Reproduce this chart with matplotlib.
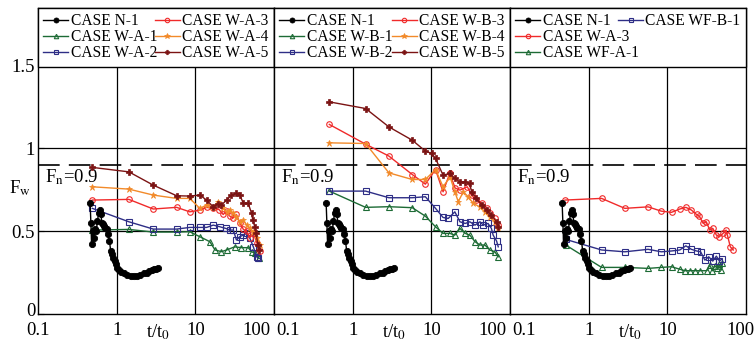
import matplotlib
matplotlib.use('Agg')
import matplotlib.pyplot as plt
from matplotlib.ticker import FixedLocator, FixedFormatter
from matplotlib.transforms import ScaledTranslation

plt.rcParams['font.family'] = ['Liberation Serif', 'DejaVu Serif']
plt.rcParams['mathtext.fontset'] = 'stix'

# ---- data ----
n1_x = [0.46, 0.47, 0.48, 0.50, 0.51, 0.53, 0.55, 0.57, 0.59, 0.61, 0.63, 0.65, 0.67, 0.70,
        0.72, 0.75, 0.78, 0.81, 0.84, 0.87, 0.90, 0.94, 0.98, 1.02, 1.08, 1.15, 1.25, 1.35,
        1.5, 1.65, 1.8, 2.0, 2.2, 2.4, 2.6, 2.8, 3.0, 3.2, 3.4]
n1_y = [0.67, 0.55, 0.42, 0.50, 0.46, 0.51, 0.50, 0.56, 0.61, 0.63, 0.60, 0.55, 0.54, 0.53,
        0.52, 0.51, 0.48, 0.44, 0.38, 0.36, 0.34, 0.32, 0.30, 0.28, 0.265, 0.255, 0.245, 0.235,
        0.232, 0.23, 0.23, 0.235, 0.245, 0.25, 0.26, 0.265, 0.27, 0.27, 0.275]

# panel 1: W-A cases
wa1_x = [0.49, 1.43, 2.92, 5.78, 8.5, 11.4, 15.3, 17.8, 21.5, 25, 31.6, 38.5, 47, 51.9, 57, 65]
wa1_y = [0.506, 0.510, 0.494, 0.494, 0.496, 0.466, 0.436, 0.386, 0.376, 0.386, 0.405, 0.40,
         0.40, 0.376, 0.366, 0.335]
wa2_x = [0.49, 1.43, 2.92, 5.78, 8.5, 11.4, 13.9, 16.9, 20.5, 24.4, 27.4, 30.4, 33.3, 36.7,
         40.8, 44.8, 49.4, 54.6, 60.3, 62.7]
wa2_y = [0.637, 0.556, 0.512, 0.512, 0.522, 0.522, 0.522, 0.536, 0.526, 0.516, 0.506, 0.506,
         0.446, 0.466, 0.476, 0.486, 0.456, 0.405, 0.345, 0.335]
wa3_x = [0.49, 1.43, 2.92, 5.78, 8.5, 11.4, 13.9, 16.9, 20, 22.6, 25, 27.4, 30.4, 33.3, 36.7,
         40.8, 44.8, 49.4, 54.6, 60.3, 66.4]
wa3_y = [0.687, 0.691, 0.633, 0.643, 0.616, 0.626, 0.643, 0.637, 0.63, 0.60, 0.62, 0.59, 0.58,
         0.60, 0.55, 0.51, 0.50, 0.46, 0.49, 0.43, 0.38]
wa4_x = [0.49, 1.43, 2.92, 5.78, 8.5, 11.4, 13.9, 16.9, 19.6, 22.6, 25, 27.4, 30.4, 33.3, 36.7,
         40.8, 44.8, 49.4, 54.6, 60.3, 66.4]
wa4_y = [0.767, 0.753, 0.717, 0.697, 0.697, 0.637, 0.657, 0.646, 0.677, 0.637, 0.616, 0.626,
         0.607, 0.586, 0.556, 0.566, 0.536, 0.516, 0.496, 0.456, 0.416]
wa5_x = [0.49, 1.43, 2.92, 5.78, 8.5, 11.4, 13.9, 16.9, 19.6, 21.5, 25, 28.8, 33.3, 36.8, 40.8,
         47, 51.9, 53.8, 57, 59, 62.7, 65]
wa5_y = [0.884, 0.857, 0.777, 0.713, 0.711, 0.717, 0.687, 0.646, 0.665, 0.657, 0.687, 0.717,
         0.727, 0.717, 0.667, 0.667, 0.607, 0.566, 0.526, 0.486, 0.416, 0.386]

# panel 2: W-B cases
wb1_x = [0.505, 1.46, 2.89, 5.72, 8.4, 11.3, 14.1, 17.2, 19.9, 23.1, 27, 30.8, 35.9, 41.5, 48,
         55.3, 64, 70.9]
wb1_y = [0.741, 0.643, 0.647, 0.641, 0.59, 0.526, 0.486, 0.486, 0.476, 0.516, 0.486, 0.476,
         0.436, 0.416, 0.416, 0.386, 0.376, 0.345]
wb2_x = [0.505, 1.46, 2.89, 5.72, 8.4, 11.3, 14.1, 16.4, 19.9, 23.1, 27, 30.8, 35.9, 41.5, 45.7,
         52.6, 58, 61, 67.5, 70.9]
wb2_y = [0.741, 0.741, 0.701, 0.701, 0.707, 0.637, 0.582, 0.576, 0.616, 0.556, 0.546, 0.556,
         0.536, 0.556, 0.536, 0.546, 0.516, 0.476, 0.44, 0.405]
wb3_x = [0.505, 1.46, 2.89, 5.72, 8.4, 11.3, 14.1, 17.2, 20, 23.1, 28.7, 32.5, 37.5, 43.7, 50.6,
         55, 64, 70.9]
wb3_y = [1.143, 1.024, 0.952, 0.841, 0.783, 0.871, 0.737, 0.85, 0.76, 0.747, 0.767, 0.717,
         0.687, 0.667, 0.637, 0.607, 0.576, 0.536]
wb4_x = [0.505, 1.46, 2.89, 5.72, 8.4, 11.3, 14.1, 17.3, 19.9, 22, 25.5, 29.4, 34.1, 41.5, 48,
         55.3, 64, 70.9]
wb4_y = [1.032, 1.028, 0.851, 0.811, 0.811, 0.871, 0.767, 0.827, 0.737, 0.677, 0.737, 0.707,
         0.667, 0.646, 0.616, 0.586, 0.556, 0.526]
wb5_x = [0.505, 1.46, 2.89, 5.72, 8.4, 10.1, 11.3, 14.1, 17.2, 19.9, 23.1, 27, 30.8, 32.5, 37.5,
         43.7, 50.6, 58.1, 67.5, 70.9]
wb5_y = [1.279, 1.239, 1.128, 1.048, 0.982, 0.968, 0.938, 0.837, 0.848, 0.817, 0.797, 0.797,
         0.787, 0.737, 0.697, 0.657, 0.626, 0.596, 0.556, 0.526]

# panel 3: W-A-3 vs WF cases
c3_wa3_x = [0.5, 1.46, 2.88, 5.7, 8.4, 11.3, 14.4, 17.2, 20.2, 23.5, 25.5, 28.6, 31.3, 34.6,
            37.8, 42, 46, 51.1, 55.8, 58, 63.2, 68.9]
c3_wa3_y = [0.687, 0.697, 0.637, 0.646, 0.62, 0.613, 0.633, 0.643, 0.627, 0.60, 0.59, 0.546,
            0.556, 0.506, 0.516, 0.476, 0.466, 0.486, 0.506, 0.476, 0.405, 0.386]
wfa1_x = [0.51, 1.46, 2.9, 5.7, 8.4, 11.3, 14.4, 16.7, 19.4, 22.6, 26.2, 31.8, 34.6, 37.5, 40.2,
          43.2, 46, 48.8, 50]
wfa1_y = [0.416, 0.281, 0.281, 0.275, 0.281, 0.285, 0.27, 0.261, 0.261, 0.261, 0.261, 0.261,
          0.295, 0.261, 0.291, 0.275, 0.30, 0.265, 0.305]
wfb1_x = [0.51, 1.46, 2.88, 5.7, 8.4, 11.3, 14.4, 17.2, 20.2, 23.5, 26.5, 30.0, 33.6, 37.8, 42,
          46, 49]
wfb1_y = [0.45, 0.386, 0.375, 0.39, 0.375, 0.38, 0.386, 0.411, 0.39, 0.38, 0.375, 0.325, 0.345,
          0.319, 0.349, 0.319, 0.33]

x_ticks = [0.1, 1, 10, 100]
x_tick_labels = ['0.1', '1', '10', '100']
y_ticks = [0, 0.5, 1, 1.5]
y_tick_labels = ['0', '0.5', '1', '1.5']

BLACK = 'black'
GREEN = '#1d6b35'
NAVY = '#2e2e86'
RED = '#f02a2a'
ORANGE = '#f28a2a'
DARKRED = '#7b1313'

sty = {
    'n1': dict(color=BLACK, marker='o', ms=4.5, mfc=BLACK, mew=0.6),
    'green': dict(color=GREEN, marker='^', ms=4, mfc='none', mew=0.8),
    'navy': dict(color=NAVY, marker='s', ms=4, mfc='none', mew=0.8),
    'red': dict(color=RED, marker='o', ms=4, mfc='none', mew=0.8),
    'orange': dict(color=ORANGE, marker='*', ms=5, mew=0.5),
    'darkred': dict(color=DARKRED, marker='P', ms=4, mew=0.5),
}

panels = [
    [('CASE N-1', n1_x, n1_y, 'n1'), ('CASE W-A-1', wa1_x, wa1_y, 'green'),
     ('CASE W-A-2', wa2_x, wa2_y, 'navy'), ('CASE W-A-3', wa3_x, wa3_y, 'red'),
     ('CASE W-A-4', wa4_x, wa4_y, 'orange'), ('CASE W-A-5', wa5_x, wa5_y, 'darkred')],
    [('CASE N-1', n1_x, n1_y, 'n1'), ('CASE W-B-1', wb1_x, wb1_y, 'green'),
     ('CASE W-B-2', wb2_x, wb2_y, 'navy'), ('CASE W-B-3', wb3_x, wb3_y, 'red'),
     ('CASE W-B-4', wb4_x, wb4_y, 'orange'), ('CASE W-B-5', wb5_x, wb5_y, 'darkred')],
    [('CASE N-1', n1_x, n1_y, 'n1'), ('CASE W-A-3', c3_wa3_x, c3_wa3_y, 'red'),
     ('CASE WF-A-1', wfa1_x, wfa1_y, 'green'), ('CASE WF-B-1', wfb1_x, wfb1_y, 'navy')],
]

fig = plt.figure(figsize=(7.55, 3.42), dpi=100)
W, H = 755, 342
leg_kw = dict(fontsize=11.2, frameon=True, fancybox=False, edgecolor='black', framealpha=1,
              handlelength=1.6, handletextpad=0.15, columnspacing=0.3, labelspacing=0.0,
              borderpad=0.35, numpoints=1, borderaxespad=0, markerscale=0.8)


def shift(lab, dx, dy=0):
    # nudge a tick label by dx, dy pixels
    lab.set_transform(lab.get_transform() +
                      ScaledTranslation(dx / 100, dy / 100, fig.dpi_scale_trans))


for i, series in enumerate(panels):
    ax = fig.add_axes([(38 + 236 * i) / W, 28 / H, 236 / W, 306 / H])
    ax.set_xscale('log')
    ax.set_xlim(0.1, 100)
    ax.set_ylim(0, 1.845)

    for y in [0.5, 1, 1.5]:
        ax.axhline(y, color='black', lw=0.9, zorder=0.5)
    for x in [1, 10]:
        ax.axvline(x, color='black', lw=0.9, zorder=0.5)
    ax.axhline(0.9, color='black', lw=1.2, ls=(0, (13, 5.5)), zorder=0.6)
    ax.text(0.122, 0.795, 'F$_{\\rm n}$=0.9', fontsize=13.5, va='baseline')

    handles = []
    for label, xs, ys, key in series:
        z = 5 if key == 'n1' else 3
        ln, = ax.plot(xs, ys, lw=1, label=label, zorder=z, **sty[key])
        handles.append(ln)

    if i < 2:
        ax.legend(handles=handles, loc='upper left', bbox_to_anchor=(0, 0, 1, 1),
                  mode='expand', ncol=2, **leg_kw)
    else:
        leg1 = ax.legend(handles=handles[:3], loc='upper left', bbox_to_anchor=(0, 0, 1, 1),
                         mode='expand', ncol=1, **leg_kw)
        ax.add_artist(leg1)
        kw2 = dict(leg_kw)
        kw2['frameon'] = False
        ax.legend(handles=handles[3:], loc='upper right', bbox_to_anchor=(0, 0, 1, 1), **kw2)

    ax.set_xticks(x_ticks)
    ax.set_xticklabels(x_tick_labels)
    ax.xaxis.set_minor_locator(FixedLocator([3.35]))
    ax.xaxis.set_minor_formatter(FixedFormatter(['t/t$_0$']))
    ax.tick_params(axis='x', which='both', length=0, labelsize=13.5, pad=6)

    ax.set_yticks(y_ticks)
    if i == 0:
        ax.set_yticklabels(y_tick_labels)
        ax.tick_params(axis='y', direction='in', length=4, labelsize=13.5, pad=2)
        ax.set_ylabel('F$_{\\rm w}$', rotation=0, fontsize=13.5)
        ax.yaxis.set_label_coords(-0.075, 0.379)
        shift(ax.get_yticklabels()[0], 0, 4)
    else:
        ax.tick_params(axis='y', length=0, labelleft=False)

    labs = ax.get_xticklabels()
    if i > 0:
        labs[0].set_ha('left')
        shift(labs[0], 2)
    if i < 2:
        labs[-1].set_ha('right')
        shift(labs[-1], -3)
    else:
        shift(labs[-1], -6)

    for sp in ax.spines.values():
        sp.set_linewidth(1)

fig.savefig('out.png', dpi=100)
